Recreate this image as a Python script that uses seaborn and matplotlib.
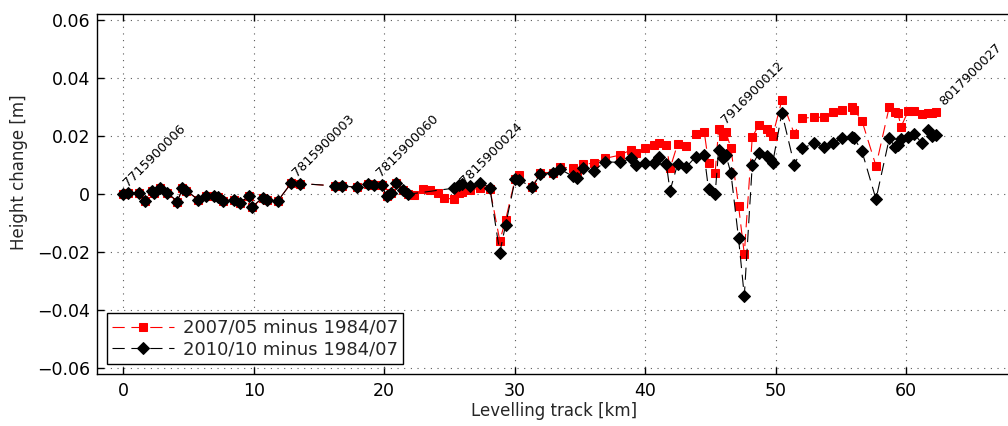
import numpy as np
import pandas as pd
import matplotlib
matplotlib.use("Agg")
import matplotlib.pyplot as plt
import seaborn as sns

# ---------------- data ----------------
km = [0.0, 0.41, 1.23, 1.66, 2.2, 2.4, 2.84, 3.35, 4.16, 4.55, 4.85, 5.75, 6.33, 6.97,
      7.28, 7.66, 8.5, 8.94, 9.66, 9.86, 10.68, 11.06, 11.85, 12.9, 13.56, 16.25, 16.8,
      17.95, 18.77, 19.23, 19.82, 20.18, 20.5, 20.9, 21.45, 21.8,
      22.3, 23.0, 23.5, 24.1, 24.6,
      25.33, 25.75, 25.95, 26.57, 27.36, 28.1, 28.86, 29.3, 30.04, 30.34, 31.36, 31.95,
      32.95, 33.49, 34.43, 34.8, 35.25, 36.04, 36.93, 38.06, 38.9, 39.33, 40.0, 40.69,
      41.07, 41.62, 41.9, 42.48, 43.12, 43.88, 44.52, 44.85, 45.36, 45.62, 45.93, 46.18,
      46.57, 47.15, 47.59, 48.2, 48.7, 49.3, 49.58, 49.76, 50.47, 51.42, 52.0, 52.95,
      53.66, 54.4, 55.04, 55.84, 56.0, 56.6, 57.68, 58.7, 59.16, 59.35, 59.6, 60.15,
      60.6, 61.2, 61.64, 62.0, 62.3]

black_common = [0.0, 0.0005, 0.0005, -0.0023, 0.0011, 0.0003, 0.002, 0.0005, -0.0026, 0.002,
                0.0012, -0.002, -0.0006, -0.0007, -0.0011, -0.0023, -0.0021, -0.003, -0.0007,
                -0.0046, -0.0013, -0.0021, -0.0024, 0.0039, 0.0036, 0.0028, 0.0028, 0.0023,
                0.0033, 0.0031, 0.003, -0.0007, 0.0002, 0.0037, 0.0014, -0.0001]

red_mid = [-0.0003, 0.0017, 0.0013, 0.0005, -0.0015]

red_tail = [-0.0017, 0.0002, 0.0008, 0.0014, 0.002, 0.0018, -0.0161, -0.009, 0.0053, 0.0066,
            0.0025, 0.0074, 0.0074, 0.0094, 0.0088, 0.008, 0.0103, 0.0106, 0.0123, 0.0134,
            0.0152, 0.0142, 0.0157, 0.0169, 0.0175, 0.0169, 0.0088, 0.0172, 0.0166, 0.0207,
            0.0215, 0.0108, 0.0074, 0.0223, 0.02, 0.0215, 0.0157, -0.0041, -0.0207, 0.0196,
            0.0238, 0.0223, 0.0215, 0.02, 0.0324, 0.0207, 0.0261, 0.0265, 0.0264, 0.0284,
            0.029, 0.0299, 0.029, 0.0253, 0.0097, 0.0301, 0.0284, 0.028, 0.0232, 0.0286,
            0.0286, 0.0276, 0.028, 0.0278, 0.0284]

black_tail = [0.002, 0.0031, 0.0033, 0.0028, 0.0039, 0.002, -0.0202, -0.0107, 0.0051, 0.0048,
              0.0023, 0.0069, 0.0071, 0.0085, 0.0062, 0.0054, 0.0088, 0.008, 0.0111, 0.0109,
              0.0123, 0.01, 0.0106, 0.0108, 0.0126, 0.0103, 0.0011, 0.0103, 0.0092, 0.0129,
              0.0134, 0.0016, 0.0, 0.0152, 0.0123, 0.0134, 0.0071, -0.0153, -0.0352, 0.01,
              0.014, 0.0131, 0.012, 0.0106, 0.028, 0.01, 0.0157, 0.0175, 0.0163, 0.0175,
              0.0192, 0.0196, 0.0193, 0.0148, -0.0018, 0.0192, 0.0161, 0.017, 0.0189, 0.0198,
              0.0207, 0.0175, 0.0221, 0.02, 0.0203]

red_vals = black_common + red_mid + red_tail
black_vals = black_common + [np.nan] * len(red_mid) + black_tail

series_red = "2007/05 minus 1984/07"
series_black = "2010/10 minus 1984/07"

benchmarks = ["7715900006", "7815900003", "7815900060", "7815900024", "7916900012", "8017900027"]
bench_km = [0.41, 13.36, 19.72, 26.2, 46.2, 62.9]
bench_val = [0.0025, 0.0058, 0.0058, 0.0031, 0.0241, 0.0303]

df_red = pd.DataFrame({"km": km, "dh": red_vals})
df_black = pd.DataFrame({"km": km, "dh": black_vals}).dropna()

# ---------------- plot ----------------
sns.set_style("white")
plt.rcParams["font.family"] = ["DejaVu Sans"]

fig = plt.figure(figsize=(10.08, 4.26), dpi=100)
ax = fig.add_axes([97 / 1008, 1 - 373.8 / 426, (1010.7 - 97) / 1008, (373.8 - 14.2) / 426])

dash = (0, (11, 6))
sns.lineplot(data=df_red, x="km", y="dh", ax=ax, color="red", lw=0.8, linestyle=dash,
             marker="s", markersize=5.5, markeredgecolor="red", markerfacecolor="red",
             sort=False, label=series_red, estimator=None)
sns.lineplot(data=df_black, x="km", y="dh", ax=ax, color="black", lw=0.8, linestyle=dash,
             marker="D", markersize=6, markeredgecolor="black", markerfacecolor="black",
             sort=False, label=series_black, estimator=None)

for name, xk, yv in zip(benchmarks, bench_km, bench_val):
    ax.text(xk, yv, name, rotation=45, rotation_mode="anchor", ha="left", va="baseline",
            fontsize=9.3, color="black")

ax.set_xlim(-2, 68)
ax.set_ylim(-0.062, 0.062)
ax.set_xticks([0, 10, 20, 30, 40, 50, 60])
ax.set_yticks([-0.06, -0.04, -0.02, 0, 0.02, 0.04, 0.06])
ax.set_yticklabels(["\u22120.06", "\u22120.04", "\u22120.02", "0", "0.02", "0.04", "0.06"])

ax.grid(True, which="major", linestyle=(0, (1, 5)), color="0.35", lw=0.8)
ax.tick_params(axis="both", direction="in", length=5, width=1, labelsize=12.5,
               top=True, bottom=True, left=True, right=False, colors="black")
ax.tick_params(axis="y", pad=5)
ax.tick_params(axis="x", pad=6)
for side in ["left", "bottom", "top"]:
    ax.spines[side].set_visible(True)
    ax.spines[side].set_color("black")
    ax.spines[side].set_linewidth(1)
ax.spines["right"].set_visible(False)

ax.set_xlabel("Levelling track [km]", fontsize=12, labelpad=1)
ax.set_ylabel("Height change [m]", fontsize=12, labelpad=4)
ax.yaxis.set_label_coords(-0.076, 0.56)

leg = ax.legend(loc="lower left", fontsize=13, handlelength=3.4, labelspacing=0.2,
                borderpad=0.3, borderaxespad=0.55, fancybox=False, framealpha=1,
                edgecolor="black", handletextpad=0.5)
leg.get_frame().set_linewidth(1)

fig.savefig("out.png", dpi=100)
